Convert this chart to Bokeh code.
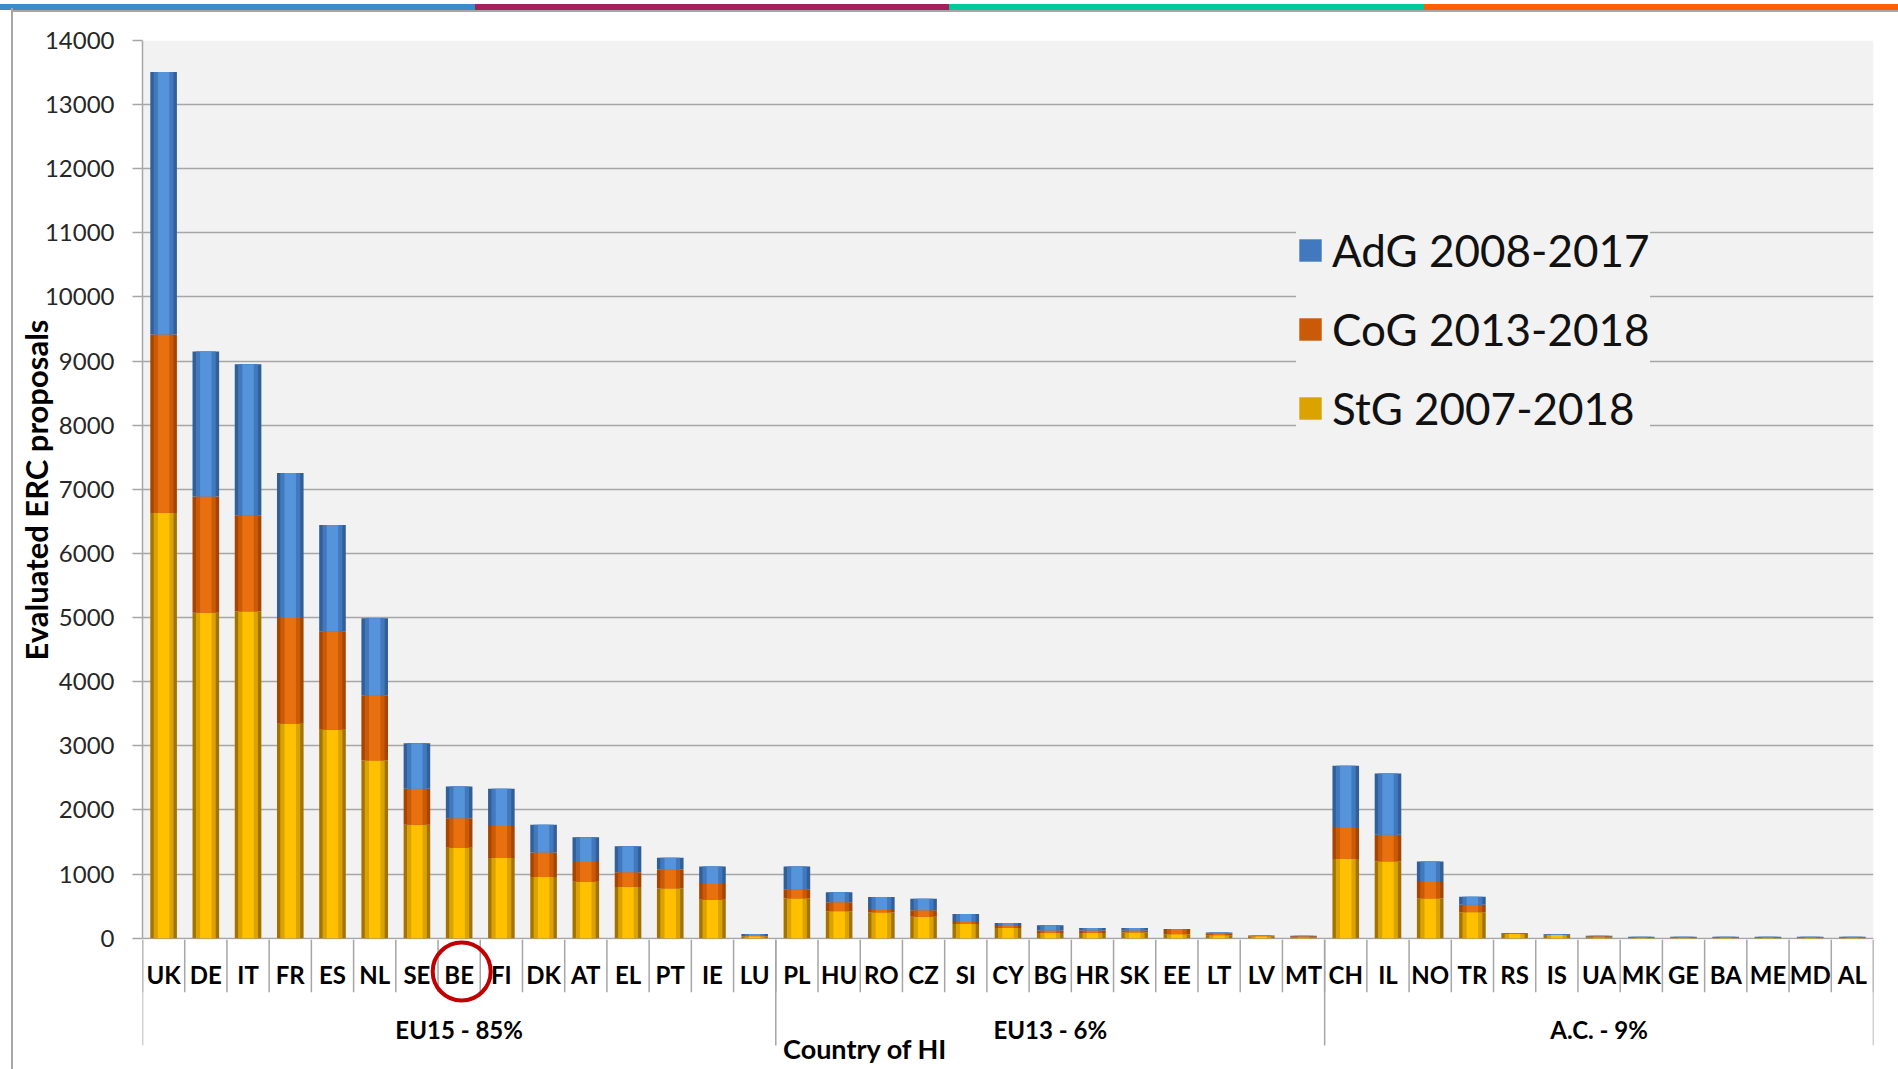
from bokeh.plotting import figure
from bokeh.models import (Range1d, FixedTicker, Legend, LegendItem, BoxAnnotation,
                          ColumnDataSource, Div)
from bokeh.layouts import column
from bokeh.core.properties import value
from bokeh.embed import file_html
from bokeh.resources import INLINE

# ---------------- data ----------------
countries = ["UK", "DE", "IT", "FR", "ES", "NL", "SE", "BE", "FI", "DK", "AT", "EL", "PT", "IE", "LU",
             "PL", "HU", "RO", "CZ", "SI", "CY", "BG", "HR", "SK", "EE", "LT", "LV", "MT",
             "CH", "IL", "NO", "TR", "RS", "IS", "UA", "MK", "GE", "BA", "ME", "MD", "AL"]
groups = ["EU15 - 85%", "EU13 - 6%", "A.C. - 9%"]
group_sizes = [15, 13, 13]

stg = [6630, 5075, 5095, 3345, 3250, 2770, 1770, 1410, 1250, 955, 880, 800, 775, 600, 30,
       620, 420, 400, 336, 222, 160, 83, 83, 88, 62, 47, 30, 10,
       1235, 1195, 620, 404, 65, 50, 10, 4, 4, 4, 4, 4, 4]
cog = [2785, 1815, 1495, 1665, 1530, 1010, 560, 460, 500, 380, 310, 230, 295, 245, 20,
       136, 139, 55, 99, 32, 32, 36, 36, 31, 67, 25, 3, 20,
       500, 420, 255, 119, 3, 2, 20, 4, 4, 4, 4, 4, 4]
adg = [4095, 2260, 2360, 2245, 1665, 1210, 710, 495, 580, 435, 385, 405, 185, 275, 15,
       361, 159, 187, 181, 124, 46, 83, 41, 41, 16, 16, 8, 10,
       955, 955, 320, 124, 15, 15, 10, 16, 16, 16, 16, 16, 16]
series_names = ["StG 2007-2018", "CoG 2013-2018", "AdG 2008-2017"]
y_ticks = list(range(0, 14001, 1000))
x_title = "Country of HI"
y_title = "Evaluated ERC proposals"
highlight = "BE"
stripe_colors = ["#3b8ccb", "#a5215d", "#00c99a", "#ff5f00"]

# ---------------- layout constants ----------------
FONT = "Lato"
GRID = "#a6a6a6"
edge_cols = ["#a47200", "#a54500", "#315f97"]
mid_cols = ["#dba300", "#cb5a06", "#4279be"]
ctr_cols = ["#ffc000", "#e8700e", "#5593da"]
SLIDE_LINE = {"background": "linear-gradient(to right, transparent 11px, #a6a6a6 11px, "
                            "#a6a6a6 13px, transparent 13px)"}

W = 1898
TOP, LEFT, RIGHT = 32, 142, 25
Y_MAX = 14000
PLOT_PX = 897.7
PX = Y_MAX / PLOT_PX          # data units per pixel in the top chart
FRAME_H = 899                 # frame extends ~1.5px below zero
BOTTOM = 15                   # room for the "0" tick label (overlapped by the strip)
H1 = TOP + FRAME_H + BOTTOM
H2 = 1069 - 8 - H1 + BOTTOM   # category-label strip height

n = len(countries)
xc = [i + 0.5 for i in range(n)]
src = ColumnDataSource(dict(x=xc, stg=stg, cog=cog, adg=adg, name=countries))
xr = Range1d(0, n)

# ---------------- top chart ----------------
p = figure(width=W, height=H1, output_backend="svg", toolbar_location=None,
           x_range=xr, y_range=Range1d(-(FRAME_H - PLOT_PX) * PX, Y_MAX),
           x_axis_type=None, min_border_left=LEFT, min_border_right=RIGHT,
           min_border_top=TOP, min_border_bottom=BOTTOM)
p.background_fill_color = "white"
p.border_fill_alpha = 0
p.outline_line_color = None
p.styles = SLIDE_LINE

p.add_layout(BoxAnnotation(bottom=0, top=Y_MAX, fill_color="#f2f2f2", fill_alpha=1,
                           line_color=None, level="image"))

p.yaxis.ticker = FixedTicker(ticks=y_ticks)
p.yaxis.bounds = (0, Y_MAX)
p.yaxis.major_label_text_font = FONT
p.yaxis.major_label_text_font_size = "24px"
p.yaxis.major_label_text_color = "#262626"
p.yaxis.major_tick_out = 10
p.yaxis.major_tick_in = 0
p.yaxis.major_tick_line_color = GRID
p.yaxis.major_tick_line_width = 1.5
p.yaxis.minor_tick_line_color = None
p.yaxis.axis_line_color = GRID
p.yaxis.axis_line_width = 1.5
p.yaxis.major_label_standoff = 18
p.yaxis.axis_label = y_title
p.yaxis.axis_label_text_font = FONT
p.yaxis.axis_label_text_font_style = "bold"
p.yaxis.axis_label_text_font_size = "31px"
p.yaxis.axis_label_text_color = "black"
p.yaxis.axis_label_standoff = -13
p.ygrid.grid_line_color = GRID
p.ygrid.grid_line_width = 1.5

stackers = ["stg", "cog", "adg"]
mid_renderers = None
for w, cols in [(0.63, edge_cols), (0.47, mid_cols), (0.27, ctr_cols)]:
    rs = p.vbar_stack(stackers, x="x", width=w, color=cols, line_color=None, source=src)
    if w == 0.47:
        mid_renderers = rs

legend = Legend(items=[LegendItem(label=series_names[i], renderers=[mid_renderers[i]]) for i in (2, 1, 0)],
                location=(1154, 505))
legend.label_text_font = FONT
legend.label_text_font_size = "44px"
legend.label_text_color = "#111111"
legend.glyph_width = 28
legend.glyph_height = 28
legend.label_standoff = 8
legend.spacing = 27
legend.padding = 20
legend.margin = 0
legend.background_fill_color = "#f2f2f2"
legend.background_fill_alpha = 1
legend.border_line_color = None
p.add_layout(legend)

# ---------------- category strip below ----------------
q = figure(width=W, height=H2, output_backend="svg", toolbar_location=None,
           x_range=xr, y_range=Range1d(-H2, 0), x_axis_type=None, y_axis_type=None,
           min_border_left=LEFT, min_border_right=RIGHT, min_border_top=0, min_border_bottom=0)
q.background_fill_alpha = 0
q.border_fill_alpha = 0
q.outline_line_color = None
q.grid.visible = False
q.styles = SLIDE_LINE
q.margin = (-BOTTOM, 0, 0, 0)

bounds = list(range(n + 1))
q.segment(x0=bounds, y0=0, x1=bounds, y1=-52.7, line_color=GRID, line_width=1.5)
q.text(x="x", y=-35, text="name", source=src, text_font=value(FONT),
       text_font_style="bold", text_font_size="24px", text_color="black",
       text_align="center", text_baseline="middle")

gb = [0]
for s in group_sizes:
    gb.append(gb[-1] + s)
gc = [(gb[i] + gb[i + 1]) / 2 for i in range(len(groups))]
q.segment(x0=gb, y0=0, x1=gb, y1=-106, line_color=GRID, line_width=1.5)
q.text(x=gc, y=[-90] * len(gc), text=groups, text_font=value(FONT),
       text_font_style="bold", text_font_size="24px", text_color="black",
       text_align="center", text_baseline="middle")
q.text(x=[17.12], y=[-109], text=[x_title], text_font=value(FONT),
       text_font_style="bold", text_font_size="27px", text_color="black",
       text_align="center", text_baseline="middle")

hx = countries.index(highlight) + 0.56
q.scatter(x=[hx], y=[-32], size=58, marker="circle", fill_alpha=0,
          line_color="#c00000", line_width=4)

stripe = Div(text=f'<div style="width:{W}px;height:6px;background:linear-gradient(to right,'
             + f'{stripe_colors[0]} 0 25%,{stripe_colors[1]} 25% 50%,'
             + f'{stripe_colors[2]} 50% 75%,{stripe_colors[3]} 75% 100%)"></div>'
             + f'<div style="width:{W - 11}px;height:2px;background:#a6a6a6;margin-left:11px"></div>',
             width=W, height=8, margin=0)

layout = column(stripe, p, q, spacing=0)
open("out.html", "w").write(file_html(layout, INLINE))
